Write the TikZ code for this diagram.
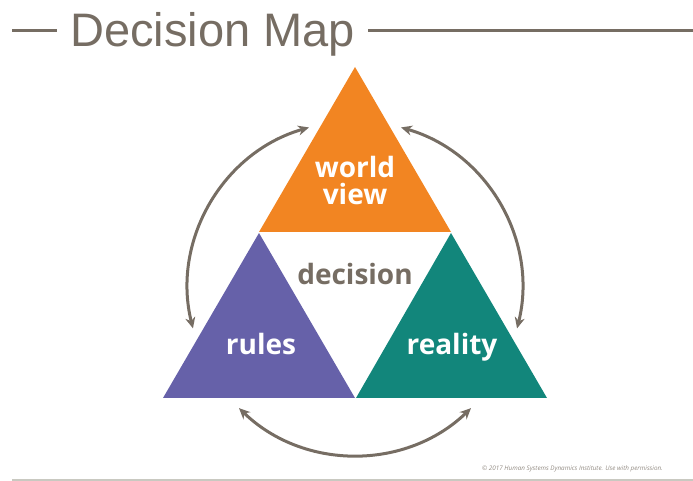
\documentclass[tikz,border=0pt]{standalone}
\usepackage{fontspec}
\setmainfont{Open Sans}
\newfontfamily\titlefont{Liberation Sans}
\usetikzlibrary{arrows.meta}
\definecolor{mapgray}{HTML}{766D63}
\definecolor{rulegray}{HTML}{C9C9C1}
\definecolor{wvorange}{HTML}{F28522}
\definecolor{rulespurple}{HTML}{6661A9}
\definecolor{realteal}{HTML}{12867B}
\tikzset{
  bar/.style={draw=mapgray, line width=3pt},
  cycle arrow/.style={draw=mapgray, line width=3pt,
    {Stealth[length=11pt,width=10pt]}-{Stealth[length=11pt,width=10pt]}},
  label white/.style={text=white, font=\fontsize{28}{27}\selectfont\bfseries, anchor=base, inner sep=0pt, align=center},
  label gray/.style={text=mapgray, font=\fontsize{28}{27}\selectfont\bfseries, anchor=base, inner sep=0pt},
}
\begin{document}
\begin{tikzpicture}[x=1pt,y=1pt]
\useasboundingbox (0,0) rectangle (693,481);
% title bar
\coordinate (tl1) at (12,450);
\coordinate (tl2) at (57,450);
\coordinate (tr1) at (368,450);
\coordinate (tr2) at (693,450);
\draw[bar] (tl1) -- (tl2);
\draw[bar] (tr1) -- (tr2);
\node[anchor=base west, inner sep=0pt, text=mapgray, font=\titlefont\fontsize{47}{47}\selectfont] (title) at (70,434) {Decision Map};
% triangle corners
\coordinate (top) at (355,414);
\coordinate (ml) at (259,249);
\coordinate (mr) at (451,249);
\coordinate (bl) at (163,83);
\coordinate (bm) at (355,83);
\coordinate (bm2) at (356,83);
\coordinate (br) at (547,83);
\fill[wvorange] (top) -- (mr) -- (ml) -- cycle;
\fill[rulespurple] ([yshift=-1pt]ml) -- (bm) -- (bl) -- cycle;
\fill[realteal] ([yshift=-1pt]mr) -- (br) -- (bm2) -- cycle;
% labels
\node[label white] (wv) at (355,276) {world\\view};
\node[label gray] (dec) at (355,196) {decision};
\node[label white] (rules) at (261,126) {rules};
\node[label white] (reality) at (452,126) {reality};
% cycle arrows around the centre
\coordinate (c) at (355,193);
\draw[cycle arrow] ([shift={(106:167)}]c) arc (106:194:167);
\draw[cycle arrow] ([shift={(74:167)}]c) arc (74:-14:167);
\draw[cycle arrow] ([shift={(226:167)}]c) arc (226:314:167);
% footer
\node[anchor=base east, inner sep=0pt, text=mapgray!80, font=\fontsize{6.3}{7}\selectfont\itshape] (copy) at (663,10) {© 2017 Human Systems Dynamics Institute. Use with permission.};
\coordinate (fl) at (12,1);
\coordinate (fr) at (693,1);
\draw[draw=rulegray, line width=1.3pt] (fl) -- (fr);
\end{tikzpicture}
\end{document}
